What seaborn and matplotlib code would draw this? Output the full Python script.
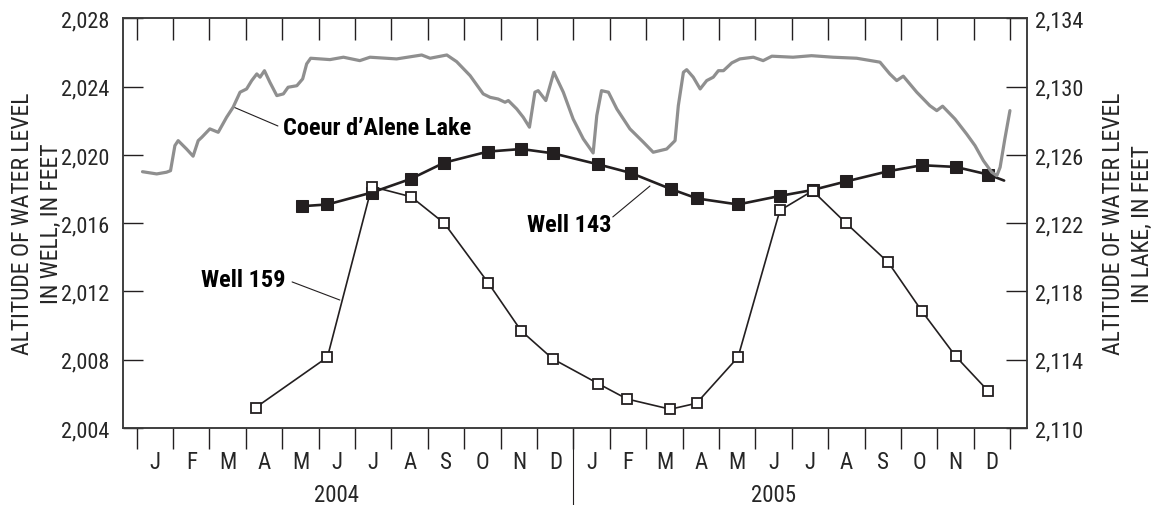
import numpy as np
import matplotlib
matplotlib.use("Agg")
import matplotlib.pyplot as plt
from matplotlib.ticker import StrMethodFormatter
import seaborn as sns

# months counted from 1 Jan 2004 (0) to 31 Dec 2005 (24)
month_letters = ["J", "F", "M", "A", "M", "J", "J", "A", "S", "O", "N", "D"] * 2
years = ["2004", "2005"]

# Well 143 (last point is where the line runs out, no marker)
well143_month = [4.55, 5.24, 6.46, 7.53, 8.45, 9.65, 10.57, 11.43, 12.68, 13.57,
                 14.68, 15.40, 16.52, 17.67, 18.57, 19.49, 20.65, 21.57, 22.50, 23.40, 23.83]
well143_level = [2017.0, 2017.1, 2017.8, 2018.6, 2019.55, 2020.2, 2020.35, 2020.1, 2019.45, 2018.95,
                 2018.0, 2017.45, 2017.1, 2017.6, 2017.95, 2018.45, 2019.05, 2019.4, 2019.3, 2018.85, 2018.5]

# Well 159
well159_month = [3.27, 5.24, 6.46, 7.54, 8.45, 9.66, 10.56, 11.43, 12.68, 13.47,
                 14.66, 15.38, 16.52, 17.67, 18.57, 19.49, 20.65, 21.57, 22.50, 23.40]
well159_level = [2005.2, 2008.15, 2018.15, 2017.55, 2016.0, 2012.5, 2009.7, 2008.05, 2006.6, 2005.7,
                 2005.1, 2005.45, 2008.15, 2016.75, 2017.9, 2016.0, 2013.7, 2010.85, 2008.2, 2006.15]

# Coeur d'Alene Lake (right axis)
lake_month = [0.16, 0.55, 0.82, 0.93, 1.05, 1.14, 1.37, 1.55, 1.69, 1.79,
              2.01, 2.24, 2.47, 2.65, 2.84, 3.02, 3.16, 3.30, 3.39, 3.51,
              3.66, 3.85, 4.03, 4.16, 4.40, 4.56, 4.67, 4.78, 5.31, 5.68,
              6.13, 6.41, 7.14, 7.83, 8.06, 8.52, 8.79, 9.16, 9.52, 9.71,
              9.93, 10.12, 10.21, 10.44, 10.62, 10.79, 10.94, 11.03, 11.24, 11.46,
              11.72, 11.99, 12.27, 12.54, 12.64, 12.77, 12.96, 13.19, 13.55, 13.92,
              14.19, 14.56, 14.79, 14.88, 15.02, 15.11, 15.29, 15.48, 15.66, 15.84,
              15.98, 16.12, 16.35, 16.57, 16.94, 17.21, 17.45, 18.03, 18.54, 19.13,
              19.78, 20.42, 20.69, 20.88, 21.06, 21.43, 21.79, 21.98, 22.14, 22.48,
              22.80, 23.03, 23.26, 23.49, 23.63, 23.72, 23.85, 23.99]
lake_level = [2125.02, 2124.89, 2124.99, 2125.08, 2126.55, 2126.84, 2126.35, 2125.93, 2126.84, 2127.04,
              2127.53, 2127.33, 2128.21, 2128.80, 2129.68, 2129.87, 2130.36, 2130.75, 2130.56, 2130.94,
              2130.26, 2129.48, 2129.58, 2129.97, 2130.06, 2130.46, 2131.34, 2131.67, 2131.59, 2131.73,
              2131.53, 2131.73, 2131.63, 2131.86, 2131.67, 2131.86, 2131.47, 2130.65, 2129.58, 2129.38,
              2129.28, 2129.09, 2129.19, 2128.70, 2128.21, 2127.63, 2129.68, 2129.77, 2129.19, 2130.85,
              2129.68, 2128.11, 2126.94, 2126.12, 2128.31, 2129.77, 2129.68, 2128.70, 2127.53, 2126.75,
              2126.16, 2126.35, 2126.84, 2128.89, 2130.85, 2131.00, 2130.56, 2129.87, 2130.36, 2130.56,
              2130.94, 2130.94, 2131.40, 2131.63, 2131.73, 2131.53, 2131.79, 2131.73, 2131.82, 2131.73,
              2131.67, 2131.44, 2130.75, 2130.36, 2130.62, 2129.68, 2128.89, 2128.60, 2128.86, 2128.11,
              2127.23, 2126.55, 2125.67, 2124.99, 2124.79, 2125.28, 2126.94, 2128.60]

sns.set_style("ticks")
plt.rcParams["font.family"] = ["Roboto Condensed", "DejaVu Sans"]
plt.rcParams["font.size"] = 16

ink = "#231f20"
lake_gray = "#8f8f8f"

fig = plt.figure(figsize=(11.55, 5.06), dpi=100)
fig.subplots_adjust(left=0.1062, right=0.8889, top=0.9615, bottom=0.1522)
ax = fig.add_subplot(111)
ax2 = ax.twinx()

# wells on the left axis
sns.lineplot(x=well143_month, y=well143_level, ax=ax, color=ink, lw=1.9,
             marker="s", markersize=9, markerfacecolor=ink, markeredgecolor=ink,
             markevery=list(range(len(well143_month) - 1)), errorbar=None, legend=False, zorder=3)
sns.lineplot(x=well159_month, y=well159_level, ax=ax, color=ink, lw=1.2,
             marker="s", markersize=7.5, markerfacecolor="white", markeredgecolor=ink,
             markeredgewidth=1.3, errorbar=None, legend=False, zorder=4)

# lake on the right axis
sns.lineplot(x=lake_month, y=lake_level, ax=ax2, color=lake_gray, lw=2.3,
             errorbar=None, legend=False)

ax.set_xlim(-0.385, 24.45)
ax.set_ylim(2004, 2028)
ax2.set_ylim(2110, 2134)

ax.set_yticks(np.arange(2004, 2029, 4))
ax2.set_yticks(np.arange(2110, 2135, 4))
ax.yaxis.set_major_formatter(StrMethodFormatter("{x:,.0f}"))
ax2.yaxis.set_major_formatter(StrMethodFormatter("{x:,.0f}"))

# month ticks and letters
ax.set_xticks(np.arange(0, 25))
ax.set_xticklabels([])
ax.set_xticks(np.arange(0.5, 24), minor=True)
ax.set_xticklabels(month_letters, minor=True)
ax.tick_params(axis="x", which="major", direction="out", length=15, width=1, color=ink)
ax.tick_params(axis="x", which="minor", length=0, pad=16, labelsize=16.5)

top = ax.secondary_xaxis("top")
top.set_xticks(np.arange(0, 25))
top.tick_params(direction="in", length=16, width=1, color=ink, labeltop=False)
top.spines["top"].set_visible(False)

ax.tick_params(axis="y", direction="in", length=14.5, width=1, color=ink, pad=9.5, labelsize=16)
ax2.tick_params(axis="y", direction="in", length=15, width=1, color=ink, pad=6, labelsize=16)

for a in (ax, ax2):
    for s in a.spines.values():
        s.set_color("#3a3a3a")
        s.set_linewidth(1.1)
        s.set_visible(True)

# year labels and divider
xt = ax.get_xaxis_transform()
ax.text(5.5, -0.163, years[0], transform=xt, ha="center", va="center", fontsize=16.5)
ax.text(17.5, -0.163, years[1], transform=xt, ha="center", va="center", fontsize=16.5)
ax.plot([12, 12], [0, -0.19], transform=xt, color=ink, lw=0.8, clip_on=False)

# axis titles
ax.set_ylabel("ALTITUDE OF WATER LEVEL\nIN WELL, IN FEET", fontsize=17, linespacing=1.35)
ax.yaxis.set_label_coords(-0.066, 0.5)
ax2.set_ylabel("ALTITUDE OF WATER LEVEL\nIN LAKE, IN FEET", fontsize=17, linespacing=1.35)
ax2.yaxis.set_label_coords(1.083, 0.5)

# labels with leader lines
ax.plot([2.65, 3.88], [2022.82, 2021.70], color=ink, lw=0.8)
ax.text(4.02, 2021.64, "Coeur d\u2019Alene Lake", ha="left", va="center",
        fontsize=17.5, fontweight="bold", color="black")
ax.plot([13.08, 14.10], [2016.37, 2018.18], color=ink, lw=0.8)
ax.text(10.72, 2015.90, "Well 143", ha="left", va="center",
        fontsize=17.5, fontweight="bold", color="black")
ax.plot([4.27, 5.58], [2012.56, 2011.50], color=ink, lw=0.8)
ax.text(4.10, 2012.68, "Well 159", ha="right", va="center",
        fontsize=17.5, fontweight="bold", color="black")

fig.savefig("out.png", dpi=100)
